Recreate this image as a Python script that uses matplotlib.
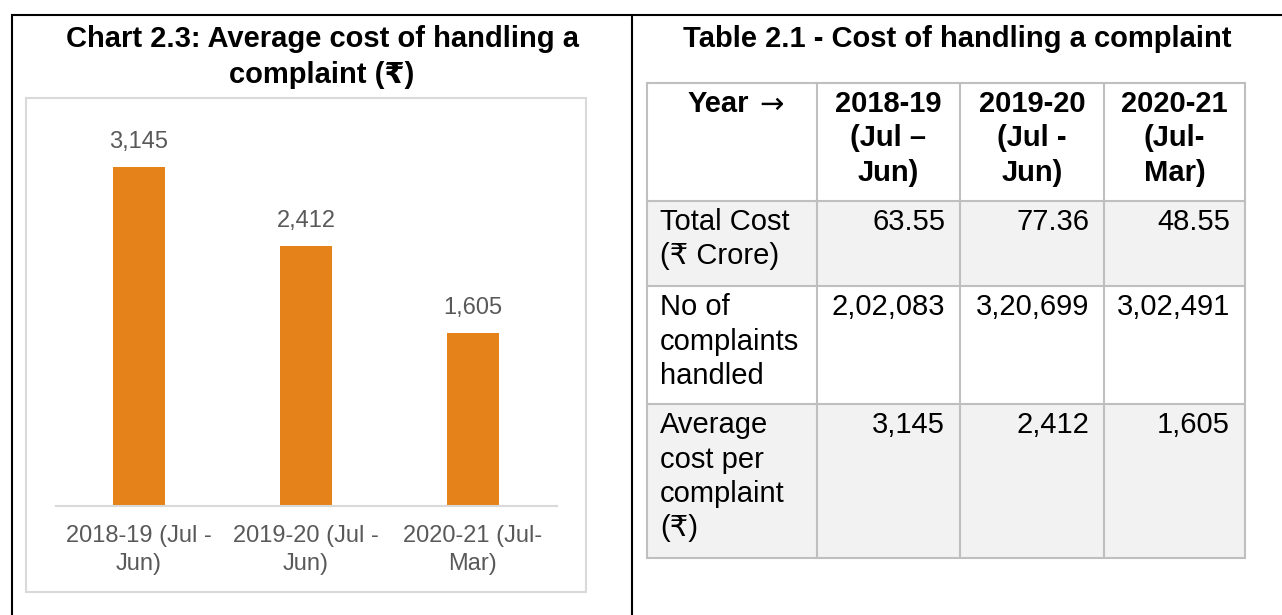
import matplotlib.pyplot as plt
from matplotlib.patches import Rectangle

plt.rcParams['font.family'] = ['Liberation Sans', 'DejaVu Sans']

# chart data
categories = ['2018-19 (Jul -\nJun)', '2019-20 (Jul -\nJun)', '2020-21 (Jul-\nMar)']
avg_cost = [3145, 2412, 1605]

# table data
col_headers = ['Year \u2192', '2018-19\n(Jul \u2013\nJun)', '2019-20\n(Jul -\nJun)', '2020-21\n(Jul-\nMar)']
row_labels = ['Total Cost\n(\u20b9 Crore)', 'No of\ncomplaints\nhandled', 'Average\ncost per\ncomplaint\n(\u20b9)']
total_cost = ['63.55', '77.36', '48.55']
complaints = ['2,02,083', '3,20,699', '3,02,491']
avg_cost_txt = ['3,145', '2,412', '1,605']
table_rows = [total_cost, complaints, avg_cost_txt]

W, H = 1282, 615
fig = plt.figure(figsize=(W / 100, H / 100), dpi=100)

# overlay in pixel coords for frames, titles and the table
ov = fig.add_axes([0, 0, 1, 1], zorder=0)
ov.set_xlim(0, W)
ov.set_ylim(H, 0)
ov.axis('off')

ov.plot([11, W], [15, 15], color='black', lw=1.5, solid_capstyle='butt')
ov.plot([12, 12], [14, H], color='black', lw=1.5, solid_capstyle='butt')
ov.plot([632, 632], [14, H], color='black', lw=1.5, solid_capstyle='butt')
ov.add_patch(Rectangle((26, 98), 560, 494, fill=False, ec='#d9d9d9', lw=1.5))

ov.text(322, 47, 'Chart 2.3: Average cost of handling a', ha='center', va='baseline',
        fontsize=21, fontweight='bold')
ov.text(322, 83, 'complaint (\u20b9)', ha='center', va='baseline', fontsize=21, fontweight='bold')
ov.text(957, 47, 'Table 2.1 - Cost of handling a complaint', ha='center', va='baseline',
        fontsize=21, fontweight='bold')

# table geometry
col_x = [647, 817, 960, 1104, 1245]
row_y = [83, 201, 286, 404, 558]
fills = ['white', '#f2f2f2', 'white', '#f2f2f2']
pitch = 34.5

for r in range(4):
    ov.add_patch(Rectangle((col_x[0], row_y[r]), col_x[-1] - col_x[0], row_y[r + 1] - row_y[r],
                           fc=fills[r], ec='none'))
for x in col_x:
    ov.plot([x, x], [row_y[0], row_y[-1]], color='#bfbfbf', lw=1.5, solid_capstyle='projecting')
for y in row_y:
    ov.plot([col_x[0], col_x[-1]], [y, y], color='#bfbfbf', lw=1.5, solid_capstyle='projecting')


def cell_text(txt, x, y_top, ha, bold=False):
    for i, line in enumerate(txt.split('\n')):
        ov.text(x, y_top + 29 + i * pitch, line, ha=ha, va='baseline', fontsize=21,
                fontweight='bold' if bold else 'normal')


# header: word and a wide arrow like the reference's symbol arrow
year_word, _ = col_headers[0].split(' ')
ov.text(688, row_y[0] + 29, year_word, ha='left', va='baseline', fontsize=21, fontweight='bold')
ov.text(754, row_y[0] + 29, r'$\rightarrow$', ha='left', va='baseline', fontsize=21)
for c, hdr in enumerate(col_headers[1:], start=1):
    cell_text(hdr, (col_x[c] + col_x[c + 1]) / 2, row_y[0], 'center', bold=True)
for r, lab in enumerate(row_labels):
    cell_text(lab, col_x[0] + 13, row_y[r + 1], 'left')
    for c, val in enumerate(table_rows[r]):
        cell_text(val, col_x[c + 2] - 15, row_y[r + 1], 'right')

# bar chart
left, right, base = 55.5, 556.5, 506
ymax = 3500
top = base - ymax * 0.1078
ax = fig.add_axes([left / W, 1 - base / H, (right - left) / W, (base - top) / H], zorder=1)
ax.patch.set_alpha(0)
x = range(len(categories))
bars = ax.bar(x, avg_cost, width=0.31, color='#e5821a')
ax.set_xlim(-0.5, 2.5)
ax.set_ylim(0, ymax)
for s in ['top', 'left', 'right']:
    ax.spines[s].set_visible(False)
ax.spines['bottom'].set_color('#d9d9d9')
ax.spines['bottom'].set_linewidth(1.5)
ax.set_yticks([])
ax.set_xticks(list(x))
ax.set_xticklabels(categories, fontsize=17, color='#595959', linespacing=1.3)
ax.tick_params(axis='x', length=0, pad=14)
for b, v in zip(bars, avg_cost):
    ax.annotate(f'{v:,}', (b.get_x() + b.get_width() / 2, v), xytext=(0, 10),
                textcoords='offset points', ha='center', va='bottom', fontsize=17, color='#595959')

fig.savefig('out.png', dpi=100)
